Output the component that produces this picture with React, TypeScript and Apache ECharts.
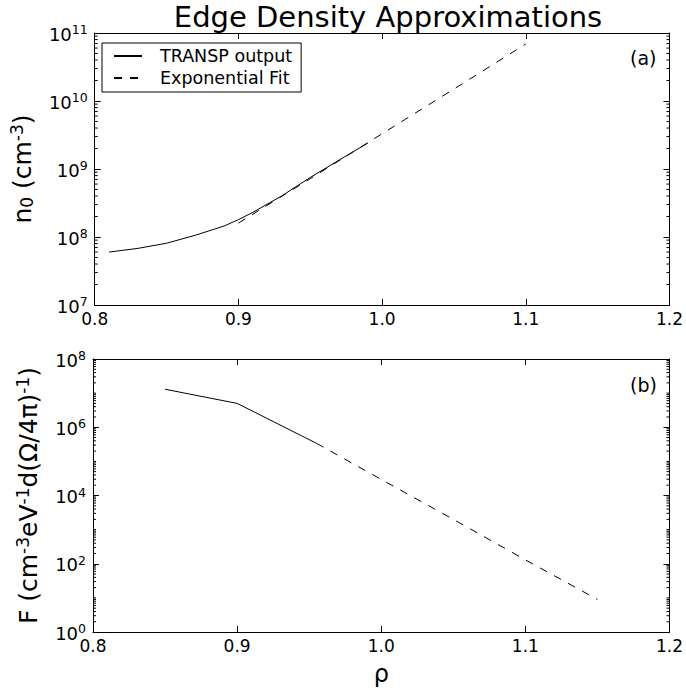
import React, { useEffect, useRef } from "react";
import * as echarts from "echarts";

// Panel (a): edge density
const rhoTransp = [0.81, 0.83, 0.85, 0.87, 0.89, 0.9, 0.91, 0.93, 0.95, 0.97, 0.99];
const nTransp = [6.0e7, 6.8e7, 8.1e7, 1.06e8, 1.45e8, 1.8e8, 2.3e8, 4.0e8, 7.5e8, 1.35e9, 2.4e9];
const rhoFitA = [0.9, 0.95, 1.0, 1.05, 1.1];
const nFit = [1.6e8, 7.2e8, 3.3e9, 1.5e10, 6.9e10];

// Panel (b): F
const rhoTranspB = [0.85, 0.9, 0.955];
const fTransp = [1.3e7, 5.0e6, 3.4e5];
const rhoFitB = [0.955, 1.0, 1.05, 1.1, 1.15];
const fFit = [3.4e5, 2.95e4, 2.0e3, 1.3e2, 9];

const xTicks = ["0.8", "0.9", "1.0", "1.1", "1.2"];
const decadesA = [7, 8, 9, 10, 11];
const decadesB = [0, 1, 2, 3, 4, 5, 6, 7, 8];

const FONT = "DejaVu Sans";

function zip(xs: number[], ys: number[]) {
  return xs.map((x, i) => [x, ys[i]]);
}

function minorTicks(decades: number[], addOdd: boolean) {
  const out: number[][] = [];
  for (let i = 0; i < decades.length - 1; i++) {
    const base = Math.pow(10, decades[i]);
    for (let m = 2; m <= 9; m++) out.push([0.8, m * base]);
    if (addOdd && decades[i] % 2 === 1) out.push([0.8, base]);
  }
  return out;
}

const supRich = {
  b: { fontSize: 18, fontFamily: FONT, color: "#000", verticalAlign: "bottom", lineHeight: 20 },
  s: { fontSize: 12.5, fontFamily: FONT, color: "#000", verticalAlign: "top", lineHeight: 12, padding: [0, 0, 10, 0] },
};

function logLabel(v: number) {
  const e = Math.round(Math.log10(v));
  return "{b|10}{s|" + e + "}";
}

export default function App() {
  const ref = useRef<HTMLDivElement>(null);
  useEffect(() => {
    if (!ref.current) return;
    const chart = echarts.init(ref.current, null, { renderer: "svg" });
    const axisLine = { show: true, lineStyle: { color: "#000", width: 1 } };
    const tick = { show: true, inside: true, length: 6, lineStyle: { color: "#000", width: 1 } };
    const xBase = (grid: number, pos: "bottom" | "top", withName: boolean, showLabel: boolean) => ({
      type: "value",
      gridIndex: grid,
      position: pos,
      min: 0.8,
      max: 1.2,
      interval: 0.1,
      axisLine,
      axisTick: tick,
      splitLine: { show: false },
      axisLabel: {
        show: showLabel,
        fontSize: 17,
        fontFamily: FONT,
        color: "#000",
        margin: 5,
        formatter: (v: number) => {
          const idx = Math.round((v - 0.8) / 0.1);
          return xTicks[idx] ?? v.toFixed(1);
        },
      },
      name: withName ? "ρ" : "",
      nameLocation: "middle",
      nameGap: 30,
      nameTextStyle: { fontSize: 24, fontFamily: FONT, color: "#000" },
    });
    const yBase = (
      grid: number,
      pos: "left" | "right",
      min: number,
      max: number,
      interval: number,
      name: string,
      nameGap: number,
      showLabel: boolean
    ) => ({
      type: "log",
      logBase: 10,
      gridIndex: grid,
      position: pos,
      min,
      max,
      interval,
      axisLine,
      axisTick: tick,
      splitLine: { show: false },
      minorTick: { show: false },
      axisLabel: {
        show: showLabel,
        margin: 7,
        formatter: logLabel,
        rich: supRich,
      },
      name,
      nameLocation: "middle",
      nameGap,
      nameTextStyle: {
        fontSize: 25,
        fontFamily: FONT,
        color: "#000",
        rich: {
          m: { fontSize: 25, fontFamily: FONT, color: "#000", verticalAlign: "bottom", lineHeight: 27 },
          s: { fontSize: 17, fontFamily: FONT, color: "#000", verticalAlign: "top", lineHeight: 17, padding: [0, 0, 13, 0] },
          d: { fontSize: 17, fontFamily: FONT, color: "#000", verticalAlign: "bottom", lineHeight: 17 },
        },
      },
    });

    const minorSeries = (xi: number, yi: number, decades: number[], addOdd: boolean) => ({
      type: "custom",
      xAxisIndex: xi,
      yAxisIndex: yi,
      silent: true,
      data: minorTicks(decades, addOdd),
      encode: { x: 0, y: 1 },
      renderItem: (_p: any, api: any) => {
        const v = api.value(1);
        const a = api.coord([0.8, v]);
        const b = api.coord([1.2, v]);
        return {
          type: "group",
          children: [
            { type: "line", shape: { x1: a[0], y1: a[1], x2: a[0] + 3, y2: a[1] }, style: { stroke: "#000", lineWidth: 1 } },
            { type: "line", shape: { x1: b[0], y1: b[1], x2: b[0] - 3, y2: b[1] }, style: { stroke: "#000", lineWidth: 1 } },
          ],
        };
      },
    });

    const option: any = {
      animation: false,
      backgroundColor: "#fff",
      title: {
        text: "Edge Density Approximations",
        left: 383,
        textAlign: "center",
        top: -3,
        textStyle: { fontSize: 29, fontFamily: FONT, fontWeight: "normal", color: "#000" },
      },
      legend: {
        left: 102,
        top: 43,
        orient: "vertical",
        data: ["TRANSP output", "Exponential Fit"],
        itemWidth: 28,
        itemHeight: 14,
        itemGap: 4,
        itemStyle: { opacity: 0 },
        borderColor: "#000",
        borderWidth: 1,
        borderRadius: 0,
        padding: [4, 9, 5, 11],
        textStyle: { fontSize: 17.5, fontFamily: FONT, color: "#000", padding: [0, 0, 0, 13] },
      },
      grid: [
        { left: 93, top: 33, width: 580, height: 272 },
        { left: 93, top: 359, width: 580, height: 273 },
      ],
      xAxis: [
        xBase(0, "bottom", false, true),
        xBase(0, "top", false, false),
        xBase(1, "bottom", true, true),
        xBase(1, "top", false, false),
      ],
      yAxis: [
        yBase(0, "left", 1e7, 1e11, 1, "{m|n}{d|0}{m| (cm}{s|-3}{m|)}", 57, true),
        yBase(0, "right", 1e7, 1e11, 1, "", 0, false),
        yBase(1, "left", 1, 1e8, 2, "{m|F (cm}{s|-3}{m|eV}{s|-1}{m|d(Ω/4π)}{s|-1}{m|)}", 51, true),
        yBase(1, "right", 1, 1e8, 2, "", 0, false),
      ],
      graphic: [
        { type: "text", left: 630, top: 48, style: { text: "(a)", fontSize: 19, fontFamily: FONT, fill: "#000" } },
        { type: "text", left: 630, top: 375, style: { text: "(b)", fontSize: 19, fontFamily: FONT, fill: "#000" } },
      ],
      series: [
        {
          name: "TRANSP output",
          type: "line",
          xAxisIndex: 0,
          yAxisIndex: 0,
          data: zip(rhoTransp, nTransp),
          symbol: "none",
          lineStyle: { color: "#000", width: 1 },
          itemStyle: { color: "#000" },
        },
        {
          name: "Exponential Fit",
          type: "line",
          xAxisIndex: 0,
          yAxisIndex: 0,
          data: zip(rhoFitA, nFit),
          symbol: "none",
          lineStyle: { color: "#000", width: 1, type: [8, 8] },
          itemStyle: { color: "#000" },
        },
        {
          name: "TRANSP output",
          type: "line",
          xAxisIndex: 2,
          yAxisIndex: 2,
          data: zip(rhoTranspB, fTransp),
          symbol: "none",
          lineStyle: { color: "#000", width: 1 },
          itemStyle: { color: "#000" },
        },
        {
          name: "Exponential Fit",
          type: "line",
          xAxisIndex: 2,
          yAxisIndex: 2,
          data: zip(rhoFitB, fFit),
          symbol: "none",
          lineStyle: { color: "#000", width: 1, type: [8, 8] },
          itemStyle: { color: "#000" },
        },
        minorSeries(0, 0, decadesA, false),
        minorSeries(2, 2, decadesB, true),
      ],
    };
    chart.setOption(option);
    return () => chart.dispose();
  }, []);
  return (
    <div
      ref={ref}
      style={{ position: "absolute", left: 0, top: 0, width: 686, height: 691, background: "#fff" }}
    />
  );
}
